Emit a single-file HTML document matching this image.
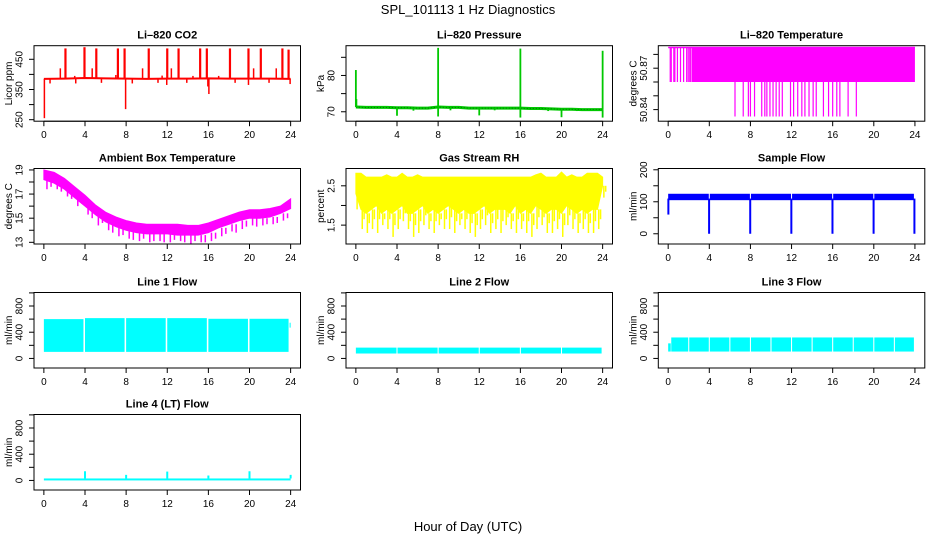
<!DOCTYPE html>
<html><head><meta charset="utf-8"><style>
html,body{margin:0;padding:0;background:#fff;}
svg{display:block;font-family:"Liberation Sans",sans-serif;}
</style></head><body>
<svg id="fig" width="936" height="540" viewBox="0 0 936 540">
<text x="468" y="14" text-anchor="middle" font-size="13">SPL_101113  1 Hz Diagnostics</text>
<text x="468" y="531" text-anchor="middle" font-size="13">Hour of Day (UTC)</text>
</svg>
<script>
// ---- data ----
const xTicks = [0,4,8,12,16,20,24];
const co2Hours = [0,2,4,6,8,10,12,14,16,18,20,22,24];
const co2Base = [385,386,388,387,386,385,386,386,387,386,386,386,385];
const co2SpikeHours = [2.1,3.95,5.1,7.2,7.85,10.2,12.0,13.1,15.2,15.85,18.1,19.9,21.1,23.2,23.8];
const co2SpikeVals = [486,490,486,486,486,486,486,486,486,486,486,486,486,486,482];
const co2SmallHours = [1.6,4.7,9.6,12.4,20.4,22.6,3.0,7.0,14.5,17.0,11.5];
const co2SmallVals = [420,420,420,420,420,420,395,398,395,395,396];
const co2DipHours = [0.05,0.6,3.1,5.6,7.95,8.6,11.1,11.95,13.9,15.95,16.05,18.6,19.9,21.9,23.95];
const co2DipVals = [255,370,370,372,285,370,372,365,372,360,335,372,365,372,368];

const presHours = [0,1,2,3,4,5,6,7,8,9,10,11,12,13,14,15,16,17,18,19,20,21,22,23,24];
const presBase = [71.3,71.2,71.2,71.2,71.1,71.1,71.0,71.0,71.3,71.2,71.2,71.0,71.0,71.0,71.0,71.0,71.0,70.9,70.9,70.8,70.7,70.7,70.6,70.6,70.6];
const presSpikeHours = [0,0.05,8,16,24];
const presSpikeVals = [81.5,73.5,87.6,87.4,86.8];
const presDipHours = [4,8,12,16,20,24,5.6,9.2,13.5,18.7,21.5];
const presDipVals = [68.9,68.7,69.0,68.4,68.5,68.4,70.3,70.4,70.4,70.2,70.2];

const tempTop = 50.885, tempMid = 50.86, tempLow = 50.835;
const tempEarlyHours = [0.2,0.3,0.55,0.65,0.9,1.2,1.5,1.8,1.95,2.1,2.2];
const tempDropHours = [6.5,7.3,7.8,8.0,8.4,9.1,9.4,9.6,9.9,10.2,10.5,10.8,11.1,11.9,12.2,12.6,13.0,13.3,13.7,14.1,14.4,15.1,15.6,16.0,16.4,16.7,17.5,18.3];

const ambHours = [0,1,2,3,4,5,6,7,8,9,10,11,12,13,14,15,16,17,18,19,20,21,22,23,24];
const ambHi = [19.0,18.8,18.3,17.6,16.9,16.1,15.5,15.1,14.8,14.6,14.5,14.5,14.5,14.5,14.4,14.4,14.6,14.9,15.2,15.5,15.7,15.7,15.8,16.0,16.6];
const ambLo = [18.2,17.9,17.4,16.7,16.0,15.3,14.7,14.3,14.0,13.8,13.7,13.7,13.7,13.6,13.6,13.6,13.8,14.2,14.5,14.8,15.0,15.0,15.1,15.4,15.8];
const ambDipA = [17.4,17.4,16.8,16.0,15.3,14.4,14.0,13.5,13.3,13.1,13.0,13.1,13.0,13.1,12.9,13.0,13.1,13.5,13.9,14.1,14.4,14.4,14.5,14.8,15.6];
const ambDipB = [17.6,17.2,16.6,16.2,15.0,14.6,13.8,13.6,13.2,13.3,13.1,13.0,13.2,13.0,13.1,13.0,13.3,13.7,13.8,14.3,14.3,14.5,14.6,15.0,15.7];

const rhHours = [0,0.5,1,1.5,2,2.5,3,3.5,4,4.5,5,5.5,6,6.5,7,7.5,8,8.5,9,9.5,10,10.5,11,11.5,12,12.5,13,13.5,14,14.5,15,15.5,16,16.5,17,17.5,18,18.5,19,19.5,20,20.5,21,21.5,22,22.5,23,23.5,24];
const rhHi = [2.82,2.82,2.72,2.72,2.72,2.72,2.78,2.72,2.72,2.82,2.72,2.72,2.78,2.72,2.72,2.72,2.72,2.72,2.72,2.72,2.72,2.72,2.72,2.72,2.72,2.72,2.72,2.72,2.72,2.72,2.72,2.72,2.72,2.72,2.72,2.78,2.82,2.72,2.72,2.72,2.85,2.72,2.78,2.72,2.72,2.82,2.82,2.82,2.72];
const rhSolid = [2.3,1.9,1.8,1.9,2.0,1.8,1.9,1.8,1.9,2.0,1.8,1.8,1.9,2.0,1.8,1.9,1.8,1.9,2.0,1.9,1.8,1.9,1.8,1.8,1.9,2.0,1.8,1.9,1.9,1.9,1.8,2.0,1.8,1.9,1.8,2.0,1.9,1.8,1.9,1.9,1.8,2.0,1.9,1.8,1.9,1.8,1.9,1.9,2.5];
const rhDeep = [1.9,1.4,1.3,1.4,1.3,1.5,1.4,1.2,1.4,1.6,1.4,1.2,1.3,1.5,1.4,1.3,1.5,1.4,1.4,1.3,1.5,1.4,1.3,1.2,1.4,1.5,1.3,1.4,1.3,1.5,1.4,1.3,1.4,1.3,1.2,1.4,1.5,1.3,1.3,1.4,1.2,1.5,1.4,1.3,1.4,1.3,1.3,1.4,2.2];

const sfStart = [0,4.05,8.05,12.05,16.05,20.05];
const sfEnd = [3.95,7.95,11.95,15.95,19.95,23.9];
const sfHi = [125,125,125,125,125,125];
const sfLo = [105,105,105,105,105,105];
const sfDipHours = [0.02,3.98,7.98,11.98,15.98,19.98,23.95];
const sfDipVals = [60,0,0,0,0,0,0];

const l1Start = [0,4.0,8.0,12.0,16.0,20.0,23.9];
const l1End = [3.85,7.85,11.85,15.85,19.85,23.8,24.0];
const l1Hi = [600,615,615,615,605,605,545];
const l1Lo = [100,100,100,100,100,100,470];

const l2Start = [0,4.05,8.05,12.05,16.05,20.05];
const l2End = [3.95,7.95,11.95,15.95,19.95,23.9];
const l2Hi = [165,165,165,165,165,165];
const l2Lo = [75,75,75,75,75,75];

const l3Start = [0,0.3,2.05,4.05,6.05,8.05,10.05,12.05,14.05,16.05,18.05,20.05,22.05];
const l3End = [0.25,1.95,3.95,5.95,7.95,9.95,11.95,13.95,15.95,17.95,19.95,21.95,23.9];
const l3Hi = [230,320,320,320,320,320,320,320,320,320,320,320,320];
const l3Lo = [105,105,105,105,105,105,105,105,105,105,105,105,105];

const l4BaseLo = 0, l4BaseHi = 30;
const l4SpikeHours = [4,8,12,16,20,24];
const l4SpikeVals = [140,85,135,75,140,85];

// ---- layout ----
const NS = "http://www.w3.org/2000/svg";
const svg = document.getElementById('fig');
const colLeft = [34,346,658.3];
const boxW = 266.5;
const rowTop = [45.7,168.5,292.5,414.5];
const boxH = 75.5;
const xlim = [-0.96,24.96];

function mk(tag, attrs, parent){
  const e = document.createElementNS(NS, tag);
  for (const k in attrs) e.setAttribute(k, attrs[k]);
  (parent||svg).appendChild(e);
  return e;
}

function panel(col,row,title,ylab,ylim,ticks,labels,name){
  const L = colLeft[col], T = rowTop[row];
  const g = mk('g',{});
  
  
  const xs = h => L + (h - xlim[0])/(xlim[1]-xlim[0])*boxW;
  const ys = v => T + boxH - (v - ylim[0])/(ylim[1]-ylim[0])*boxH;
  const data = mk('g',{}, g);
  
  
  const p = {g, data, xs, ys, L, T};
  p.finish = function(){
    const box = mk('rect',{x:L,y:T,width:boxW,height:boxH,fill:'none',stroke:'#000','stroke-width':1}, g);
    
    
    const t = mk('text',{x:L+boxW/2,y:T-7,'text-anchor':'middle','font-size':11,'font-weight':'bold'}, g);
    t.textContent = title;
    
    
    const xa = mk('g',{}, g);
    
    
    mk('line',{x1:xs(0),x2:xs(24),y1:T+boxH,y2:T+boxH,stroke:'#000'}, xa);
    xTicks.forEach(v=>{
      mk('line',{x1:xs(v),x2:xs(v),y1:T+boxH,y2:T+boxH+5,stroke:'#000'}, xa);
      const tl = mk('text',{x:xs(v),y:T+boxH+17,'text-anchor':'middle','font-size':10}, xa);
      tl.textContent = v;
      
      
    });
    const ya = mk('g',{}, g);
    
    
    ticks.forEach(v=>{
      mk('line',{x1:L-5,x2:L,y1:ys(v),y2:ys(v),stroke:'#000'}, ya);
    });
    labels.forEach(v=>{
      const y = ys(v);
      const tl = mk('text',{x:0,y:0,'text-anchor':'middle','font-size':10,transform:`translate(${L-11.5},${y}) rotate(-90)`}, ya);
      tl.textContent = v;
      
      
    });
    const yt = mk('text',{x:0,y:0,'text-anchor':'middle','font-size':10,transform:`translate(${L-22},${T+boxH/2}) rotate(-90)`}, g);
    yt.textContent = ylab;
    
    
  };
  return p;
}

function vline(p,h,v1,v2,color,w){
  return mk('line',{x1:p.xs(h),x2:p.xs(h),y1:p.ys(v1),y2:p.ys(v2),stroke:color,'stroke-width':w||1}, p.data);
}
function polyline(p,hs,vs,color,w){
  const pts = hs.map((h,i)=>p.xs(h)+','+p.ys(vs[i])).join(' ');
  return mk('polyline',{points:pts,fill:'none',stroke:color,'stroke-width':w||1}, p.data);
}
function band(p,hs,hi,lo,color){
  const top = hs.map((h,i)=>p.xs(h)+','+p.ys(hi[i]));
  const bot = hs.map((h,i)=>p.xs(h)+','+p.ys(lo[i])).reverse();
  return mk('polygon',{points:top.concat(bot).join(' '),fill:color,stroke:color,'stroke-width':1}, p.data);
}
function blocks(p,st,en,hi,lo,color){
  st.forEach((s,i)=>{
    const r = mk('rect',{x:p.xs(s),y:p.ys(hi[i]),width:Math.max(1,p.xs(en[i])-p.xs(s)),height:p.ys(lo[i])-p.ys(hi[i]),fill:color}, p.data);
    
    
  });
}

// CO2
{
  const p = panel(0,0,'Li\u2013820 CO2','Licor ppm',[245,495],[250,300,350,400,450],[250,350,450],'co2');
  const red = '#ff0000';
  polyline(p,co2Hours,co2Base,red,2);
  co2SpikeHours.forEach((h,i)=>{ const l=vline(p,h,co2Base[0],co2SpikeVals[i],red,2.2);
     });
  co2SmallHours.forEach((h,i)=>{ const l=vline(p,h,co2Base[0],co2SmallVals[i],red,1.5);
     });
  co2DipHours.forEach((h,i)=>{ const l=vline(p,h,co2Base[0],co2DipVals[i],red,1.5);
     });
  p.finish();
}
// Pressure
{
  const p = panel(1,0,'Li\u2013820 Pressure','kPa',[67.4,88.2],[70,75,80,85],[70,80],'pressure');
  const gr = '#00c800';
  polyline(p,presHours,presBase,gr,3);
  polyline(p,presHours,presBase,'#005000',0.7).setAttribute('stroke-dasharray','1 2');
  presSpikeHours.forEach((h,i)=>{ const l=vline(p,h,presBase[Math.round(h)],presSpikeVals[i],gr,1.8);
     });
  presDipHours.forEach((h,i)=>{ const l=vline(p,h,presBase[Math.round(h)],presDipVals[i],gr,1.8);
     });
  p.finish();
}
// Li-820 temperature
{
  const p = panel(2,0,'Li\u2013820 Temperature','degrees C',[50.8316,50.8863],[50.84,50.85,50.86,50.87,50.88],[50.84,50.87],'li820-temp');
  const mg = '#ff00ff';
  const r = mk('rect',{x:p.xs(2.3),y:p.ys(tempTop),width:p.xs(24)-p.xs(2.3),height:p.ys(tempMid)-p.ys(tempTop),fill:mg}, p.data);
  
  mk('line',{x1:p.xs(0),x2:p.xs(24),y1:p.ys(tempTop),y2:p.ys(tempTop),stroke:mg,'stroke-width':1.5}, p.data);
  tempEarlyHours.forEach(h=>{ const l=vline(p,h,tempTop,tempMid,mg,1.2);
     });
  tempDropHours.forEach(h=>{ const l=vline(p,h,tempMid,tempLow,mg,1.2);
     });
  p.finish();
}
// Ambient box temp
{
  const p = panel(0,1,'Ambient Box Temperature','degrees C',[12.86,19.12],[13,14,15,16,17,18,19],[13,15,17,19],'ambient-temp');
  const mg = '#ff00ff';
  band(p,ambHours,ambHi,ambLo,mg);
  ambHours.forEach((h,i)=>{
    if (i<24){ const l=vline(p,h+0.3,ambLo[i],ambDipA[i],mg,1.5);
      
      const l2=vline(p,h+0.7,ambLo[i],ambDipB[i],mg,1.5);
       }
  });
  p.finish();
}
// RH
{
  const p = panel(1,1,'Gas Stream RH','percent',[1.02,2.94],[1.5,2.0,2.5],[1.5,2.5],'gas-rh');
  const y = '#ffff00';
  band(p,rhHours,rhHi,rhSolid,y);
  rhHours.forEach((h,i)=>{ const l=vline(p,h+0.12,rhSolid[i],rhDeep[i],y,1.5);
     });
  rhHours.forEach((h,i)=>{ const l=vline(p,h+0.3,rhSolid[i],(rhDeep[i]+rhSolid[i])/2,y,1.5);
     });
  p.finish();
}
// Sample flow
{
  const p = panel(2,1,'Sample Flow','ml/min',[-32,204],[0,50,100,150,200],[0,100,200],'sample-flow');
  blocks(p,sfStart,sfEnd,sfHi,sfLo,'#0000ff');
  sfDipHours.forEach((h,i)=>{ const l=vline(p,h,110,sfDipVals[i],'#0000ff',2);
     });
  p.finish();
}
// Line flows
const flowTicks = [0,200,400,600,800,1000], flowLabels = [0,400,800], flowLim = [-146,1006];
{
  const p = panel(0,2,'Line 1 Flow','ml/min',flowLim,flowTicks,flowLabels,'line1-flow');
  blocks(p,l1Start,l1End,l1Hi,l1Lo,'#00ffff');
  p.finish();
}
{
  const p = panel(1,2,'Line 2 Flow','ml/min',flowLim,flowTicks,flowLabels,'line2-flow');
  blocks(p,l2Start,l2End,l2Hi,l2Lo,'#00ffff');
  p.finish();
}
{
  const p = panel(2,2,'Line 3 Flow','ml/min',flowLim,flowTicks,flowLabels,'line3-flow');
  blocks(p,l3Start,l3End,l3Hi,l3Lo,'#00ffff');
  p.finish();
}
{
  const p = panel(0,3,'Line 4 (LT) Flow','ml/min',flowLim,flowTicks,flowLabels,'line4-flow');
  blocks(p,[0],[24],[l4BaseHi],[l4BaseLo],'#00ffff');
  l4SpikeHours.forEach((h,i)=>{ const l=vline(p,h,l4BaseHi,l4SpikeVals[i],'#00ffff',2);
     });
  p.finish();
}
</script>
</body></html>
